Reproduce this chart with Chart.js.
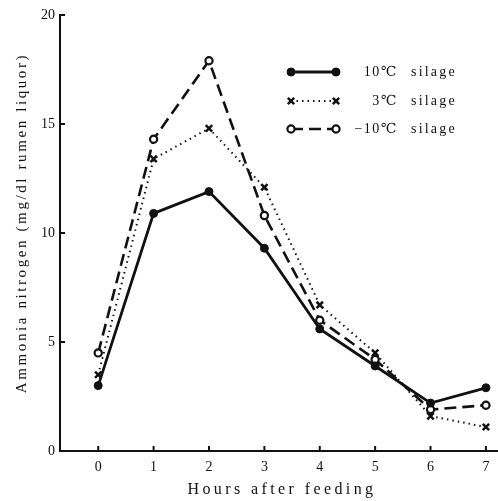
<!DOCTYPE html>
<html>
<head>
<meta charset="utf-8">
<script src="https://cdn.jsdelivr.net/npm/chart.js@4.4.1/dist/chart.umd.min.js"></script>
<style>
  html, body { margin: 0; padding: 0; background: #fff; overflow: hidden; }
  #wrap { width: 498px; height: 501px; position: relative; }
  #c { display: block; }
</style>
</head>
<body>
<div id="wrap"><canvas id="c"></canvas></div>
<script>
// ── Ammonia nitrogen after feeding ─────────────────────────────
const hours = [0, 1, 2, 3, 4, 5, 6, 7];
const silage10 = [3.0, 10.9, 11.9, 9.3, 5.6, 3.9, 2.2, 2.9];
const silage3 = [3.5, 13.4, 14.8, 12.1, 6.7, 4.5, 1.6, 1.1];
const silageMinus10 = [4.5, 14.3, 17.9, 10.8, 6.0, 4.2, 1.9, 2.1];
const yTicks = [0, 5, 10, 15, 20];
const legendTemps = ['10℃', '3℃', '−10℃'];

const SERIF = "'Liberation Serif', 'DejaVu Serif', serif";
const INK = '#111';

const pts = arr => arr.map((v, i) => ({ x: hours[i], y: v }));

const series = [
  { label: '10℃ silage', data: silage10, dash: [], width: 2.8,
    pointStyle: 'circle', radius: 4, pbw: 1, fill: INK },
  { label: '3℃ silage', data: silage3, dash: [1.5, 4], width: 2,
    pointStyle: 'crossRot', radius: 4.5, pbw: 2.5, fill: INK },
  { label: '−10℃ silage', data: silageMinus10, dash: [12, 6], width: 2.6,
    pointStyle: 'circle', radius: 3.6, pbw: 2.2, fill: '#fff' },
];

// inward tick marks + axis titles + custom legend
const decor = {
  id: 'decor',
  afterDraw(chart) {
    const { ctx, chartArea: a, scales: { x, y } } = chart;
    ctx.save();
    ctx.strokeStyle = INK;
    ctx.lineWidth = 2;
    for (const v of hours) {
      const px = x.getPixelForValue(v);
      ctx.beginPath(); ctx.moveTo(px, a.bottom); ctx.lineTo(px, a.bottom - 5); ctx.stroke();
    }
    for (const v of yTicks) {
      const py = y.getPixelForValue(v);
      ctx.beginPath(); ctx.moveTo(a.left, py); ctx.lineTo(a.left + 5, py); ctx.stroke();
    }

    // axis titles
    ctx.fillStyle = INK;
    ctx.textAlign = 'center';
    ctx.textBaseline = 'middle';
    ctx.font = `16px ${SERIF}`;
    ctx.letterSpacing = '3.4px';
    ctx.fillText('Hours after feeding', 282, 490);
    ctx.save();
    ctx.translate(22, 223);
    ctx.rotate(-Math.PI / 2);
    ctx.font = `15px ${SERIF}`;
    ctx.letterSpacing = '2.6px';
    ctx.fillText('Ammonia nitrogen (mg/dl rumen liquor)', 0, 0);
    ctx.restore();

    // legend
    const rows = [72, 101, 129];
    series.forEach((s, i) => {
      const yy = rows[i], x0 = 291, x1 = 336;
      ctx.save();
      ctx.lineWidth = s.width;
      ctx.setLineDash(s.dash);
      ctx.beginPath(); ctx.moveTo(x0, yy); ctx.lineTo(x1, yy); ctx.stroke();
      ctx.restore();
      for (const px of [x0, x1]) {
        ctx.save();
        ctx.lineWidth = s.pbw;
        ctx.fillStyle = s.fill;
        Chart.helpers.drawPoint(ctx, { pointStyle: s.pointStyle, radius: s.radius, borderWidth: s.pbw }, px, yy);
        ctx.restore();
      }
      ctx.font = `14px ${SERIF}`;
      ctx.letterSpacing = '1.5px';
      ctx.textAlign = 'right';
      ctx.fillText(legendTemps[i], 398, yy);
      ctx.letterSpacing = '2.2px';
      ctx.textAlign = 'left';
      ctx.fillText('silage', 411, yy);
    });
    ctx.restore();
  },
};

new Chart(document.getElementById('c'), {
  type: 'line',
  data: {
    datasets: series.map(s => ({
      label: s.label,
      data: pts(s.data),
      borderColor: INK,
      borderWidth: s.width,
      borderDash: s.dash,
      pointStyle: s.pointStyle,
      pointRadius: s.radius,
      pointBorderWidth: s.pbw,
      pointBackgroundColor: s.fill,
      pointBorderColor: INK,
      tension: 0,
    })),
  },
  options: {
    responsive: true,
    maintainAspectRatio: false,
    animation: false,
    layout: { autoPadding: false, padding: { top: 15, right: 1, left: 0, bottom: 0 } },
    plugins: { legend: { display: false }, tooltip: { enabled: false } },
    scales: {
      x: {
        type: 'linear',
        min: -0.69, max: 7.2,
        afterBuildTicks: sc => { sc.ticks = hours.map(v => ({ value: v })); },
        afterFit: sc => { sc.height = 50; sc.paddingRight = 0; sc.paddingLeft = 0; },
        grid: { display: false, drawTicks: false },
        border: { display: true, color: INK, width: 2 },
        ticks: { color: INK, padding: 8, font: { family: SERIF, size: 14 } },
      },
      y: {
        min: 0, max: 20,
        afterBuildTicks: sc => { sc.ticks = yTicks.map(v => ({ value: v })); },
        afterFit: sc => { sc.width = 60; },
        grid: { display: false, drawTicks: false },
        border: { display: true, color: INK, width: 2 },
        ticks: { color: INK, padding: 5, font: { family: SERIF, size: 14 } },
      },
    },
  },
  plugins: [decor],
});
</script>
</body>
</html>
